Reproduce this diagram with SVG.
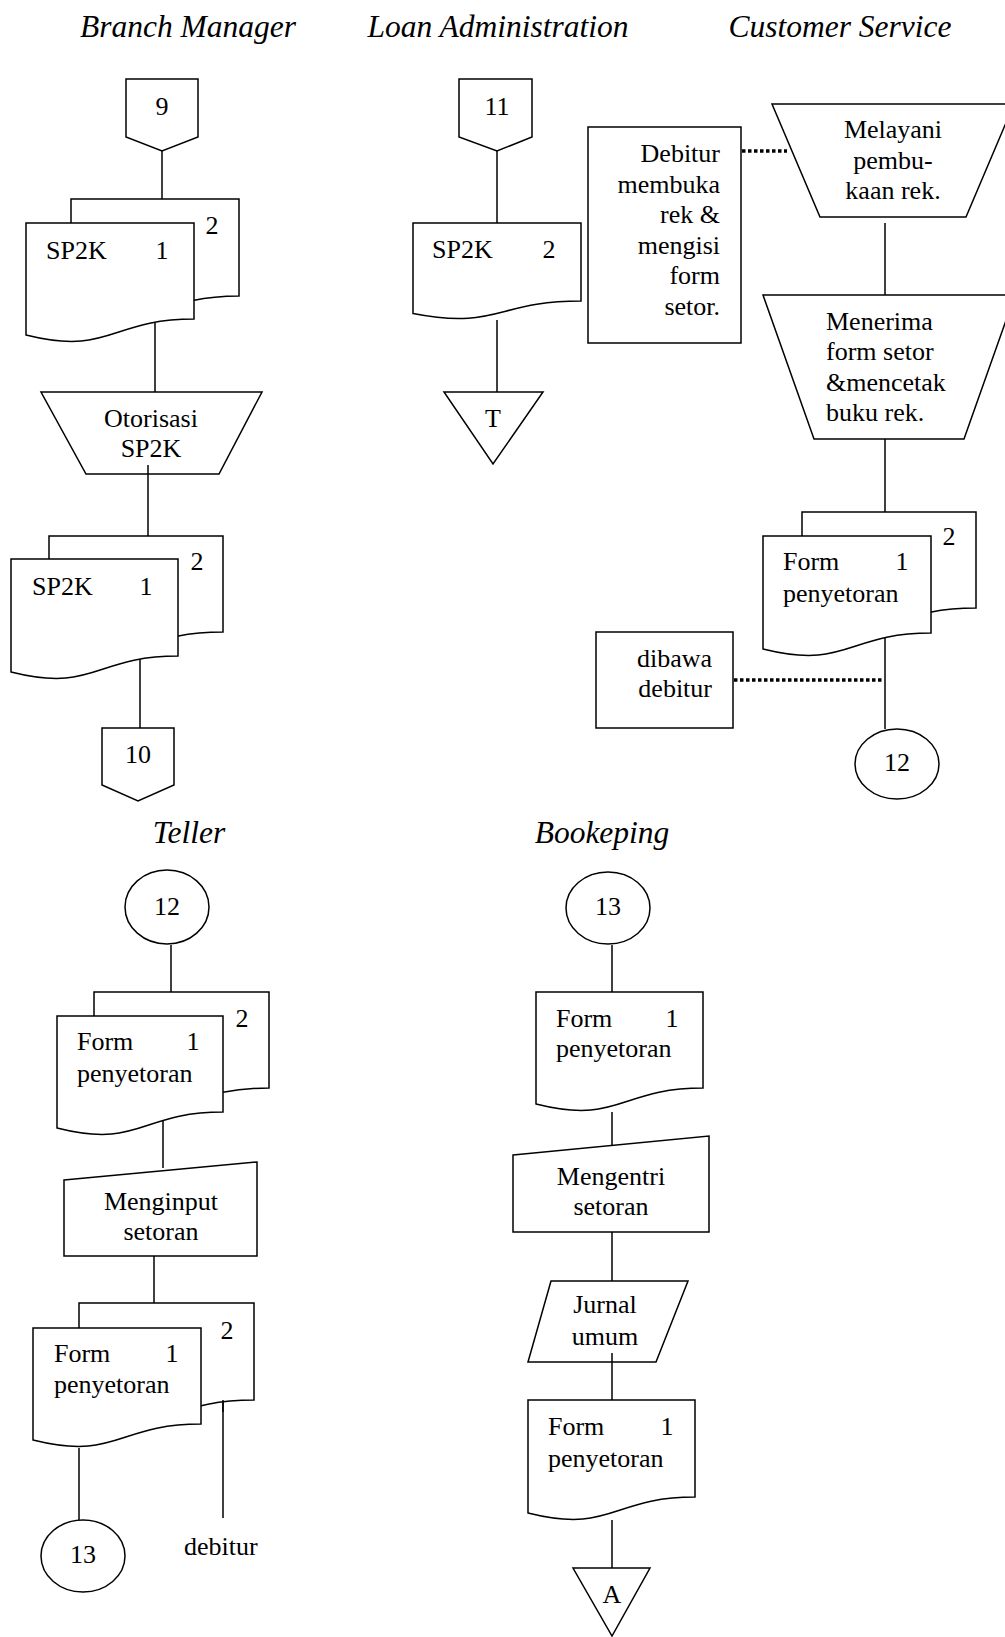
<svg xmlns="http://www.w3.org/2000/svg" width="1005" height="1637" viewBox="0 0 1005 1637">
<style>
.s{fill:#fff;stroke:#000;stroke-width:1.5}
.c{stroke:#000;stroke-width:1.5;fill:none}
.d{stroke:#000;stroke-width:3.5;stroke-dasharray:3.5 2.5;fill:none}
text{font-family:"Liberation Serif","Times New Roman",serif;font-size:26px;fill:#000}
.t{font-size:31.5px;font-style:italic;text-anchor:middle}
.m{text-anchor:middle}
.e{text-anchor:end}
</style>
<rect width="1005" height="1637" fill="#fff"/>
<g id="titles">
<text class="t" x="188" y="37">Branch Manager</text>
<text class="t" x="498" y="37">Loan Administration</text>
<text class="t" x="840" y="37">Customer Service</text>
<text class="t" x="189" y="843">Teller</text>
<text class="t" x="602" y="843">Bookeping</text>
</g>
<g id="connectors">
<line class="c" x1="162" y1="151" x2="162" y2="199"/>
<line class="c" x1="155" y1="323" x2="155" y2="392"/>
<line class="c" x1="148" y1="465" x2="148" y2="536"/>
<line class="c" x1="140" y1="655" x2="140" y2="728"/>
<line class="c" x1="497" y1="151" x2="497" y2="223"/>
<line class="c" x1="497" y1="320" x2="497" y2="392"/>
<line class="c" x1="885" y1="223" x2="885" y2="295"/>
<line class="c" x1="885" y1="439" x2="885" y2="512"/>
<line class="c" x1="885" y1="638" x2="885" y2="729"/>
<line class="d" x1="742" y1="151" x2="787" y2="151"/>
<line class="d" x1="734" y1="680" x2="882" y2="680"/>
<line class="c" x1="171" y1="945" x2="171" y2="992"/>
<line class="c" x1="163" y1="1112" x2="163" y2="1168"/>
<line class="c" x1="154" y1="1256" x2="154" y2="1303"/>
<line class="c" x1="79" y1="1448" x2="79" y2="1520"/>
<line class="c" x1="223" y1="1400" x2="223" y2="1518"/>
<line class="c" x1="612" y1="945" x2="612" y2="992"/>
<line class="c" x1="612" y1="1112" x2="612" y2="1145"/>
<line class="c" x1="612" y1="1232" x2="612" y2="1281"/>
<line class="c" x1="612" y1="1353" x2="612" y2="1400"/>
<line class="c" x1="612" y1="1520" x2="612" y2="1568"/>
</g>
<g id="off9">
<polygon class="s" points="126,79 198,79 198,137 162,151 126,137"/>
<text class="m" x="162" y="115">9</text>
</g>
<g id="bm-doc1">
<path class="s" d="M71,199 H239 V296 C155,296 155,332 71,318 Z"/>
<path class="s" d="M26,223 H194 V319 C110,319 110,356 26,335 Z"/>
<text x="46" y="259">SP2K</text>
<text class="m" x="162" y="259">1</text>
<text class="m" x="212" y="234">2</text>
</g>
<g id="bm-otorisasi">
<polygon class="s" points="41,392 262,392 219,474 86,474"/>
<line class="c" x1="148" y1="465" x2="148" y2="474"/>
<text class="m" x="151" y="427">Otorisasi</text>
<text class="m" x="151" y="457">SP2K</text>
</g>
<g id="bm-doc2">
<path class="s" d="M49,536 H223 V632 C136,632 136,669 49,648 Z"/>
<path class="s" d="M11,559 H178 V656 C94.5,656 94.5,693 11,672 Z"/>
<text x="32" y="595">SP2K</text>
<text class="m" x="146" y="595">1</text>
<text class="m" x="197" y="570">2</text>
</g>
<g id="off10">
<polygon class="s" points="102,728 174,728 174,785 138,801 102,785"/>
<text class="m" x="138" y="763">10</text>
</g>
<g id="off11">
<polygon class="s" points="459,79 532,79 532,137 497,151 459,137"/>
<text class="m" x="497" y="115">11</text>
</g>
<g id="la-doc">
<path class="s" d="M413,223 H581 V301 C497,301 497,330 413,313.6 Z"/>
<text x="432" y="258">SP2K</text>
<text class="m" x="549" y="258">2</text>
</g>
<g id="la-file">
<polygon class="s" points="444,392 543,392 493,464"/>
<text class="m" x="493" y="427">T</text>
</g>
<g id="cs-debitur">
<rect class="s" x="588" y="127" width="153" height="216"/>
<text class="e" x="720" y="162">Debitur</text>
<text class="e" x="720" y="193">membuka</text>
<text class="e" x="720" y="223">rek &amp;</text>
<text class="e" x="720" y="254">mengisi</text>
<text class="e" x="720" y="284">form</text>
<text class="e" x="720" y="315">setor.</text>
</g>
<g id="cs-melayani">
<polygon class="s" points="772,104 1014,104 966,217 820,217"/>
<text class="m" x="893" y="138">Melayani</text>
<text class="m" x="893" y="169">pembu-</text>
<text class="m" x="893" y="199">kaan rek.</text>
</g>
<g id="cs-menerima">
<polygon class="s" points="763,295 1015,295 964,439 814,439"/>
<text x="826" y="330">Menerima</text>
<text x="826" y="360">form setor</text>
<text x="826" y="391">&amp;mencetak</text>
<text x="826" y="421">buku rek.</text>
</g>
<g id="cs-doc">
<path class="s" d="M802,512 H976 V608 C889,608 889,645 802,624 Z"/>
<path class="s" d="M763,536 H931 V633 C847,633 847,670 763,649 Z"/>
<text x="783" y="570">Form</text>
<text class="m" x="902" y="570">1</text>
<text x="783" y="602">penyetoran</text>
<text class="m" x="949" y="545">2</text>
</g>
<g id="cs-dibawa">
<rect class="s" x="596" y="632" width="137" height="96"/>
<text class="e" x="712" y="667">dibawa</text>
<text class="e" x="712" y="697">debitur</text>
</g>
<g id="cs-on12">
<ellipse class="s" cx="897" cy="764" rx="42" ry="35"/>
<text class="m" x="897" y="771">12</text>
</g>
<g id="t-on12">
<ellipse class="s" cx="167" cy="907" rx="42" ry="37"/>
<text class="m" x="167" y="915">12</text>
</g>
<g id="t-doc1">
<path class="s" d="M94,992 H269 V1088 C181.5,1088 181.5,1125 94,1104 Z"/>
<path class="s" d="M57,1016 H223 V1112 C140,1112 140,1149 57,1128 Z"/>
<text x="77" y="1050">Form</text>
<text class="m" x="193" y="1050">1</text>
<text x="77" y="1082">penyetoran</text>
<text class="m" x="242" y="1027">2</text>
</g>
<g id="t-input">
<polygon class="s" points="64,1180 257,1162 257,1256 64,1256"/>
<text class="m" x="161" y="1210">Menginput</text>
<text class="m" x="161" y="1240">setoran</text>
</g>
<g id="t-doc2">
<path class="s" d="M79,1303 H254 V1400 C166.5,1400 166.5,1437 79,1416 Z"/>
<path class="s" d="M33,1328 H201 V1424 C117,1424 117,1461 33,1440 Z"/>
<line class="c" x1="223" y1="1400" x2="223" y2="1412"/>
<text x="54" y="1362">Form</text>
<text class="m" x="172" y="1362">1</text>
<text x="54" y="1393">penyetoran</text>
<text class="m" x="227" y="1339">2</text>
</g>
<g id="t-on13">
<ellipse class="s" cx="83" cy="1556" rx="42" ry="36"/>
<text class="m" x="83" y="1563">13</text>
</g>
<g id="t-debitur">
<text x="184" y="1555">debitur</text>
</g>
<g id="b-on13">
<ellipse class="s" cx="608" cy="908" rx="42" ry="36"/>
<text class="m" x="608" y="915">13</text>
</g>
<g id="b-doc1">
<path class="s" d="M536,992 H703 V1088 C619.5,1088 619.5,1125 536,1104 Z"/>
<text x="556" y="1027">Form</text>
<text class="m" x="672" y="1027">1</text>
<text x="556" y="1057">penyetoran</text>
</g>
<g id="b-entri">
<polygon class="s" points="513,1155 709,1136 709,1232 513,1232"/>
<text class="m" x="611" y="1185">Mengentri</text>
<text class="m" x="611" y="1215">setoran</text>
</g>
<g id="b-jurnal">
<polygon class="s" points="551,1281 688,1281 656,1362 528,1362"/>
<line class="c" x1="612" y1="1353" x2="612" y2="1362"/>
<text class="m" x="605" y="1313">Jurnal</text>
<text class="m" x="605" y="1345">umum</text>
</g>
<g id="b-doc2">
<path class="s" d="M528,1400 H695 V1497 C611.5,1497 611.5,1534 528,1513 Z"/>
<text x="548" y="1435">Form</text>
<text class="m" x="667" y="1435">1</text>
<text x="548" y="1467">penyetoran</text>
</g>
<g id="b-fileA">
<polygon class="s" points="573,1568 650,1568 612,1636"/>
<text class="m" x="612" y="1603">A</text>
</g>
</svg>
